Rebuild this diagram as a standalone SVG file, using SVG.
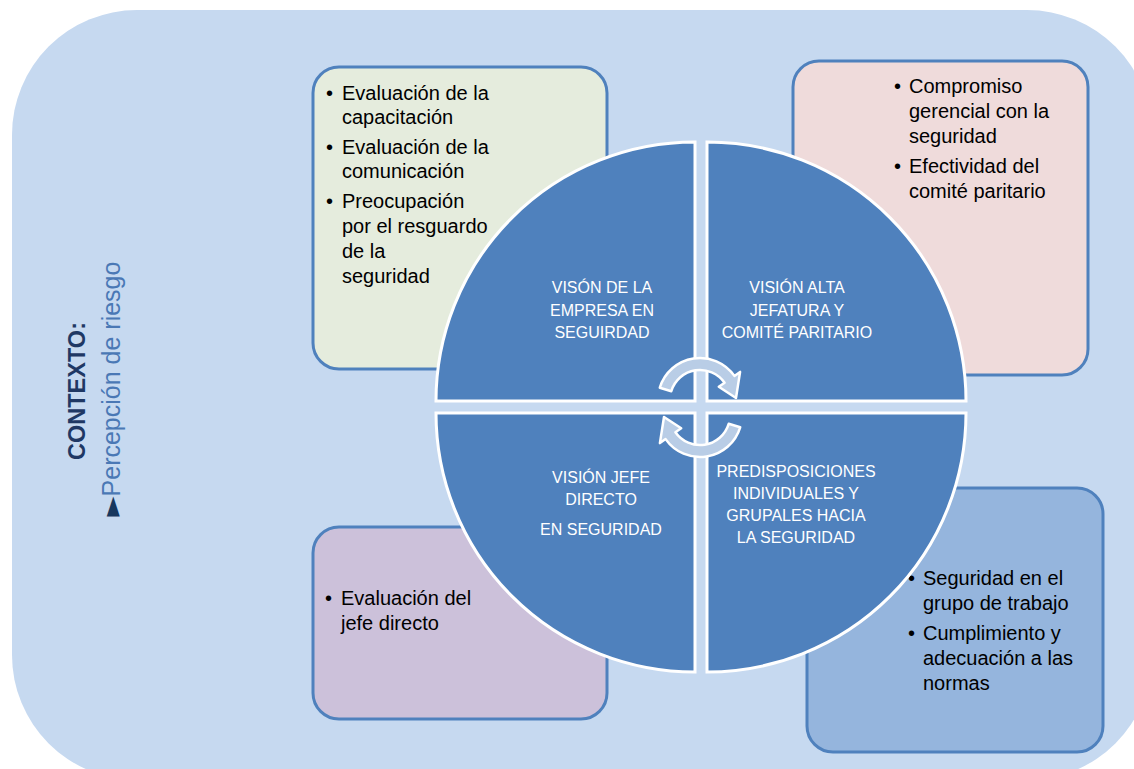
<svg xmlns="http://www.w3.org/2000/svg" width="1134" height="769" viewBox="0 0 1134 769">
<style>
.box{stroke:#4F81BD;stroke-width:3}
.txt{font-family:"Liberation Sans",Arial,sans-serif;font-size:20px;fill:#000}
.q{fill:#4F81BD;stroke:#FFFFFF;stroke-width:3}
.qt{font-family:"Liberation Sans",Arial,sans-serif;font-size:16px;fill:#FFFFFF;text-anchor:middle}
.arr{fill:#B9CDE6;stroke:#FFFFFF;stroke-width:2.5;stroke-linejoin:round}
</style>
<rect width="1134" height="769" fill="#FFFFFF"/>
<g id="background">
<rect x="12" y="10" width="1140" height="770" rx="125" ry="125" fill="#C6D9F0"/>
</g>
<g id="context">
<text transform="translate(85,391) rotate(-90)" text-anchor="middle" font-family="'Liberation Sans',Arial,sans-serif" font-size="23.5" font-weight="bold" fill="#1F3864">CONTEXTO:</text>
<text transform="translate(120,389) rotate(-90)" text-anchor="middle" font-family="'Liberation Sans','DejaVu Sans',Arial,sans-serif" font-size="25" fill="#4A78B5"><tspan fill="#17375E" font-family="'DejaVu Sans',sans-serif" font-size="26">►</tspan>Percepción de riesgo</text>
</g>
<g id="box-empresa">
<rect class="box" x="313" y="67" width="294" height="302" rx="26" fill="#E5ECDD"/>
<text class="txt">
<tspan x="326" y="100">•</tspan><tspan x="342" y="100">Evaluación de la</tspan>
<tspan x="342" y="124">capacitación</tspan>
<tspan x="326" y="154">•</tspan><tspan x="342" y="154">Evaluación de la</tspan>
<tspan x="342" y="178">comunicación</tspan>
<tspan x="326" y="208">•</tspan><tspan x="342" y="208">Preocupación</tspan>
<tspan x="342" y="233">por el resguardo</tspan>
<tspan x="342" y="258">de la</tspan>
<tspan x="342" y="283">seguridad</tspan>
</text>
</g>
<g id="box-jefatura">
<rect class="box" x="793" y="61" width="295" height="314" rx="26" fill="#EFDBDB"/>
<text class="txt">
<tspan x="894" y="93">•</tspan><tspan x="909" y="93">Compromiso</tspan>
<tspan x="909" y="118">gerencial con la</tspan>
<tspan x="909" y="143">seguridad</tspan>
<tspan x="894" y="173">•</tspan><tspan x="909" y="173">Efectividad del</tspan>
<tspan x="909" y="198">comité paritario</tspan>
</text>
</g>
<g id="box-jefe">
<rect class="box" x="313" y="527" width="294" height="192" rx="26" fill="#CCC1DA"/>
<text class="txt">
<tspan x="325" y="605">•</tspan><tspan x="341" y="605">Evaluación del</tspan>
<tspan x="341" y="630">jefe directo</tspan>
</text>
</g>
<g id="box-grupo">
<rect class="box" x="807" y="488" width="296" height="264" rx="26" fill="#95B5DD"/>
<text class="txt">
<tspan x="908" y="585">•</tspan><tspan x="923" y="585">Seguridad en el</tspan>
<tspan x="923" y="610">grupo de trabajo</tspan>
<tspan x="908" y="640">•</tspan><tspan x="923" y="640">Cumplimiento y</tspan>
<tspan x="923" y="665">adecuación a las</tspan>
<tspan x="923" y="690">normas</tspan>
</text>
</g>
<g id="q-empresa">
<path class="q" d="M695,401 L436,401 A259,259 0 0 1 695,142 Z"/>
<text class="qt"><tspan x="602" y="293">VISÓN DE LA</tspan><tspan x="602" y="316">EMPRESA EN</tspan><tspan x="602" y="338">SEGUIRDAD</tspan></text>
</g>
<g id="q-jefatura">
<path class="q" d="M707,401 L707,142 A259,259 0 0 1 966,401 Z"/>
<text class="qt"><tspan x="797" y="293">VISIÓN ALTA</tspan><tspan x="797" y="316">JEFATURA Y</tspan><tspan x="797" y="338">COMITÉ PARITARIO</tspan></text>
</g>
<g id="q-jefe">
<path class="q" d="M695,413 L695,672 A259,259 0 0 1 436,413 Z"/>
<text class="qt"><tspan x="601" y="483">VISIÓN JEFE</tspan><tspan x="601" y="505">DIRECTO</tspan><tspan x="601" y="535">EN SEGURIDAD</tspan></text>
</g>
<g id="q-grupo">
<path class="q" d="M707,413 L966,413 A259,259 0 0 1 707,672 Z"/>
<text class="qt"><tspan x="796" y="477">PREDISPOSICIONES</tspan><tspan x="796" y="499">INDIVIDUALES Y</tspan><tspan x="796" y="521">GRUPALES HACIA</tspan><tspan x="796" y="543">LA SEGURIDAD</tspan></text>
</g>
<g id="connectors">
<path class="arr" d="M659.8,387.7 A42,42 0 0 1 734.4,375.9 L740.1,371.9 L736,398 L718.8,386.8 L724.6,382.8 A30,30 0 0 0 671.3,391.2 Z"/>
<path class="arr" transform="rotate(180 700 407.5)" d="M659.8,387.7 A42,42 0 0 1 734.4,375.9 L740.1,371.9 L736,398 L718.8,386.8 L724.6,382.8 A30,30 0 0 0 671.3,391.2 Z"/>
</g>
</svg>
